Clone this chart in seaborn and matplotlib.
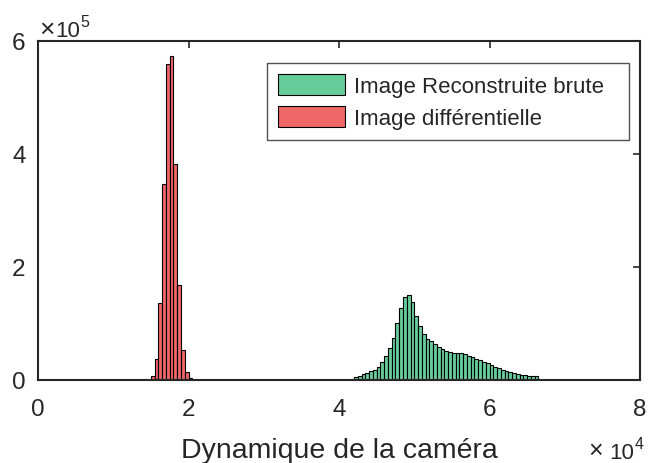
import numpy as np
import pandas as pd
import matplotlib
matplotlib.use('Agg')
import matplotlib.pyplot as plt
import seaborn as sns

# ── Data (bin counts) ──
BIN_W = 500

red_start  = 15000
red_counts = [6500, 36600, 137000, 346000, 560000, 574000,
              382000, 168000, 53000, 14200, 3000]

green_start  = 41500
green_counts = [2400, 4700, 7000, 10600, 13000, 15300, 17700, 23600, 31900, 42500,
                56000, 74900, 101000, 127000, 147000, 151000, 138000, 114000, 95600, 80900,
                73100, 68400, 63700, 58400, 54300, 51300, 49000, 47800, 47800, 47200,
                45400, 43000, 40100, 37700, 35400, 32400, 29500, 26000, 23000, 20700,
                17700, 15900, 14200, 12400, 10600, 9400, 8300, 7700, 7100, 6500]

labels  = ['Image Reconstruite brute', 'Image différentielle']
x_ticks = [0, 20000, 40000, 60000, 80000]
y_ticks = [0, 200000, 400000, 600000]

GREEN = '#66CC99'
RED   = '#EE6666'
INK   = '#262626'
W, H  = 656, 464

def to_frame(start, counts):
    edges = start + BIN_W * np.arange(len(counts) + 1)
    centers = edges[:-1] + BIN_W / 2
    return pd.DataFrame({'val': centers, 'count': counts}), edges.tolist()

df_g, edges_g = to_frame(green_start, green_counts)
df_r, edges_r = to_frame(red_start, red_counts)

sns.set_style('white')
plt.rcParams['font.family'] = ['Liberation Sans', 'DejaVu Sans']

fig = plt.figure(figsize=(W / 100, H / 100), dpi=100)
ax = fig.add_axes([0.058, 0.179, 0.9176, 0.7305])

sns.histplot(data=df_g, x='val', weights='count', bins=edges_g, ax=ax,
             color=GREEN, alpha=1, edgecolor='black', linewidth=0.8,
             label=labels[0])
sns.histplot(data=df_r, x='val', weights='count', bins=edges_r, ax=ax,
             color=RED, alpha=1, edgecolor='black', linewidth=0.8,
             label=labels[1])

ax.set_xlim(0, 80000)
ax.set_ylim(0, 600000)
ax.set_xticks(x_ticks)
ax.set_yticks(y_ticks)
ax.set_xticklabels([f'{int(v / 1e4)}' for v in x_ticks])
ax.set_yticklabels([f'{int(v / 1e5)}' for v in y_ticks])
ax.set_xlabel('Dynamique de la caméra', fontsize=20.5, labelpad=12, color=INK)
ax.set_ylabel('')

ax.tick_params(direction='in', length=5, width=1.2, colors=INK,
               labelsize=17.5, top=True, right=True)
ax.tick_params(axis='x', pad=13)
ax.tick_params(axis='y', pad=9)
for s in ax.spines.values():
    s.set_linewidth(1.5)
    s.set_color(INK)

# exponent labels, MATLAB style (pixel positions from the top-left corner)
def fig_text(px, py, s, size, ha='left', va='baseline'):
    fig.text(px / W, 1 - py / H, s, fontsize=size, color=INK, ha=ha, va=va)

fig_text(46.5, 37, '×', 19, ha='center')
fig_text(55, 37, '10', 16)
fig_text(80, 27, '5', 11.5)
fig_text(596, 458, '×', 18, ha='center')
fig_text(609, 459, '10', 16)
fig_text(635, 449, '4', 11.5)

leg = ax.legend(loc='upper left', bbox_to_anchor=(0.3804, 0.5, 0.6013, 0.435),
                mode='expand', fontsize=16,
                frameon=True, fancybox=False, edgecolor=INK,
                handlelength=3.0, handleheight=1.05, borderpad=0.5,
                labelspacing=0.4, handletextpad=0.4, borderaxespad=0)
leg.get_frame().set_linewidth(1.0)

fig.savefig('out.png', dpi=100)
